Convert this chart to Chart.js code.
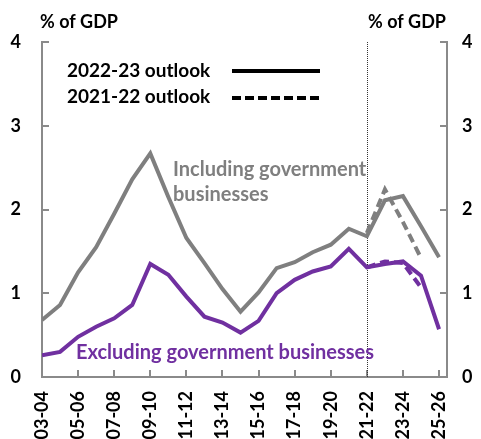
<!DOCTYPE html>
<html>
<head>
<meta charset="utf-8">
<script src="https://cdn.jsdelivr.net/npm/chart.js@4.4.0/dist/chart.umd.min.js"></script>
<style>
  body { margin: 0; background: #fff; }
  canvas { display: block; }
</style>
</head>
<body>
<canvas id="chart" width="481" height="439"></canvas>
<script>
// financial years on the x axis
const categories = ['03-04', '04-05', '05-06', '06-07', '07-08', '08-09', '09-10', '10-11',
  '11-12', '12-13', '13-14', '14-15', '15-16', '16-17', '17-18', '18-19', '19-20', '20-21',
  '21-22', '22-23', '23-24', '24-25', '25-26'];

// % of GDP, 2022-23 outlook (solid)
const inclGov2223 = [0.68, 0.86, 1.25, 1.55, 1.95, 2.36, 2.67, 2.15, 1.66, 1.36, 1.05, 0.78,
  1.01, 1.30, 1.37, 1.49, 1.58, 1.77, 1.68, 2.11, 2.16, 1.80, 1.43];
const exclGov2223 = [0.26, 0.30, 0.48, 0.60, 0.70, 0.86, 1.35, 1.22, 0.96, 0.72, 0.65, 0.53,
  0.67, 1.00, 1.16, 1.26, 1.32, 1.53, 1.31, 1.35, 1.38, 1.21, 0.57];

// % of GDP, 2021-22 outlook (dashed)
const inclGov2122 = [null, null, null, null, null, null, null, null, null, null, null, null,
  null, null, null, null, null, null, 1.72, 2.24, 1.85, 1.42, null];
const exclGov2122 = [null, null, null, null, null, null, null, null, null, null, null, null,
  null, null, null, null, null, null, 1.31, 1.38, 1.36, 1.07, null];

const yTicks = [0, 1, 2, 3, 4];

const GREY = '#7f7f7f';
const PURPLE = '#7030a0';
const AXIS = '#8a8a8a';
const FONT = 'Lato, "Open Sans", sans-serif';

function points(arr) {
  return arr.map((v, i) => ({ x: i, y: v })).filter(p => p.y !== null);
}

// inner tick marks, dotted forecast divider and text labels
const decorations = {
  id: 'decorations',
  beforeDatasetsDraw(chart) {
    const { ctx, chartArea, scales } = chart;
    const x = scales.x, y = scales.y;
    ctx.save();
    ctx.strokeStyle = AXIS;
    ctx.lineWidth = 2;
    ctx.beginPath();
    for (let i = 0; i < categories.length; i += 2) {
      const px = Math.round(x.getPixelForValue(i));
      ctx.moveTo(px, chartArea.bottom);
      ctx.lineTo(px, chartArea.bottom - 7);
    }
    yTicks.forEach(t => {
      const py = Math.round(y.getPixelForValue(t));
      ctx.moveTo(chartArea.left, py);
      ctx.lineTo(chartArea.left + 7, py);
      ctx.moveTo(chartArea.right, py);
      ctx.lineTo(chartArea.right - 7, py);
    });
    ctx.stroke();

    // forecast divider at 21-22
    const dx = Math.round(x.getPixelForValue(18)) + 0.5;
    ctx.strokeStyle = '#333';
    ctx.lineWidth = 1;
    ctx.setLineDash([1, 1]);
    ctx.beginPath();
    ctx.moveTo(dx, chartArea.top);
    ctx.lineTo(dx, chartArea.bottom);
    ctx.stroke();
    ctx.setLineDash([]);
    ctx.restore();
  },
  afterDraw(chart) {
    const { ctx } = chart;
    ctx.save();
    ctx.textBaseline = 'middle';
    ctx.textAlign = 'left';
    ctx.font = 'bold 18px ' + FONT;
    ctx.fillStyle = '#000';
    ctx.fillText('% of GDP', 40, 22);
    ctx.fillText('% of GDP', 368, 22);

    ctx.font = 'bold 19px ' + FONT;
    ctx.fillText('2022-23 outlook', 67, 71);
    ctx.fillText('2021-22 outlook', 67, 97);

    ctx.strokeStyle = '#000';
    ctx.lineWidth = 4;
    ctx.beginPath();
    ctx.moveTo(232, 71);
    ctx.lineTo(320, 71);
    ctx.stroke();
    ctx.setLineDash([9, 4]);
    ctx.beginPath();
    ctx.moveTo(232, 98);
    ctx.lineTo(320, 98);
    ctx.stroke();
    ctx.setLineDash([]);

    ctx.font = 'bold 20px ' + FONT;
    ctx.fillStyle = GREY;
    ctx.fillText('Including government', 173, 170);
    ctx.fillText('businesses', 173, 195);

    ctx.fillStyle = PURPLE;
    ctx.fillText('Excluding government businesses', 76, 353);
    ctx.restore();
  }
};

const ctx = document.getElementById('chart').getContext('2d');
new Chart(ctx, {
  type: 'line',
  data: {
    datasets: [{
      label: 'Including government businesses (2022-23)',
      data: points(inclGov2223),
      borderColor: GREY,
      borderWidth: 4,
      order: 1
    }, {
      label: 'Excluding government businesses (2022-23)',
      data: points(exclGov2223),
      borderColor: PURPLE,
      borderWidth: 4,
      order: 0
    }, {
      label: 'Including government businesses (2021-22)',
      data: points(inclGov2122),
      borderColor: GREY,
      borderWidth: 4,
      borderDash: [9, 5],
      order: 2
    }, {
      label: 'Excluding government businesses (2021-22)',
      data: points(exclGov2122),
      borderColor: PURPLE,
      borderWidth: 4,
      borderDash: [9, 5],
      order: 3
    }]
  },
  options: {
    responsive: false,
    animation: false,
    layout: { padding: { top: 42, left: 0, right: 0, bottom: 0 } },
    elements: {
      point: { radius: 0 },
      line: { tension: 0, fill: false }
    },
    plugins: {
      legend: { display: false },
      tooltip: { enabled: false }
    },
    scales: {
      x: {
        type: 'linear',
        min: 0,
        max: 22.44,
        grid: { display: true, drawOnChartArea: false, drawTicks: false },
        border: { color: AXIS, width: 2 },
        ticks: {
          stepSize: 2,
          includeBounds: false,
          autoSkip: false,
          minRotation: 90,
          maxRotation: 90,
          padding: 14,
          color: '#000',
          font: { family: FONT, size: 18, weight: 'bold' },
          callback: v => categories[v] || ''
        },
        afterFit: scale => { scale.height = 62; }
      },
      y: {
        position: 'left',
        min: 0,
        max: 4,
        grid: { drawOnChartArea: false, drawTicks: false },
        border: { color: AXIS, width: 2 },
        ticks: {
          stepSize: 1,
          padding: 21,
          color: '#000',
          font: { family: FONT, size: 18, weight: 'bold' }
        },
        afterFit: scale => { scale.width = 42; }
      },
      y2: {
        position: 'right',
        min: 0,
        max: 4,
        grid: { drawOnChartArea: false, drawTicks: false },
        border: { color: AXIS, width: 2 },
        ticks: {
          stepSize: 1,
          padding: 15,
          color: '#000',
          font: { family: FONT, size: 18, weight: 'bold' }
        },
        afterFit: scale => { scale.width = 34; }
      }
    }
  },
  plugins: [decorations]
});
</script>
</body>
</html>
